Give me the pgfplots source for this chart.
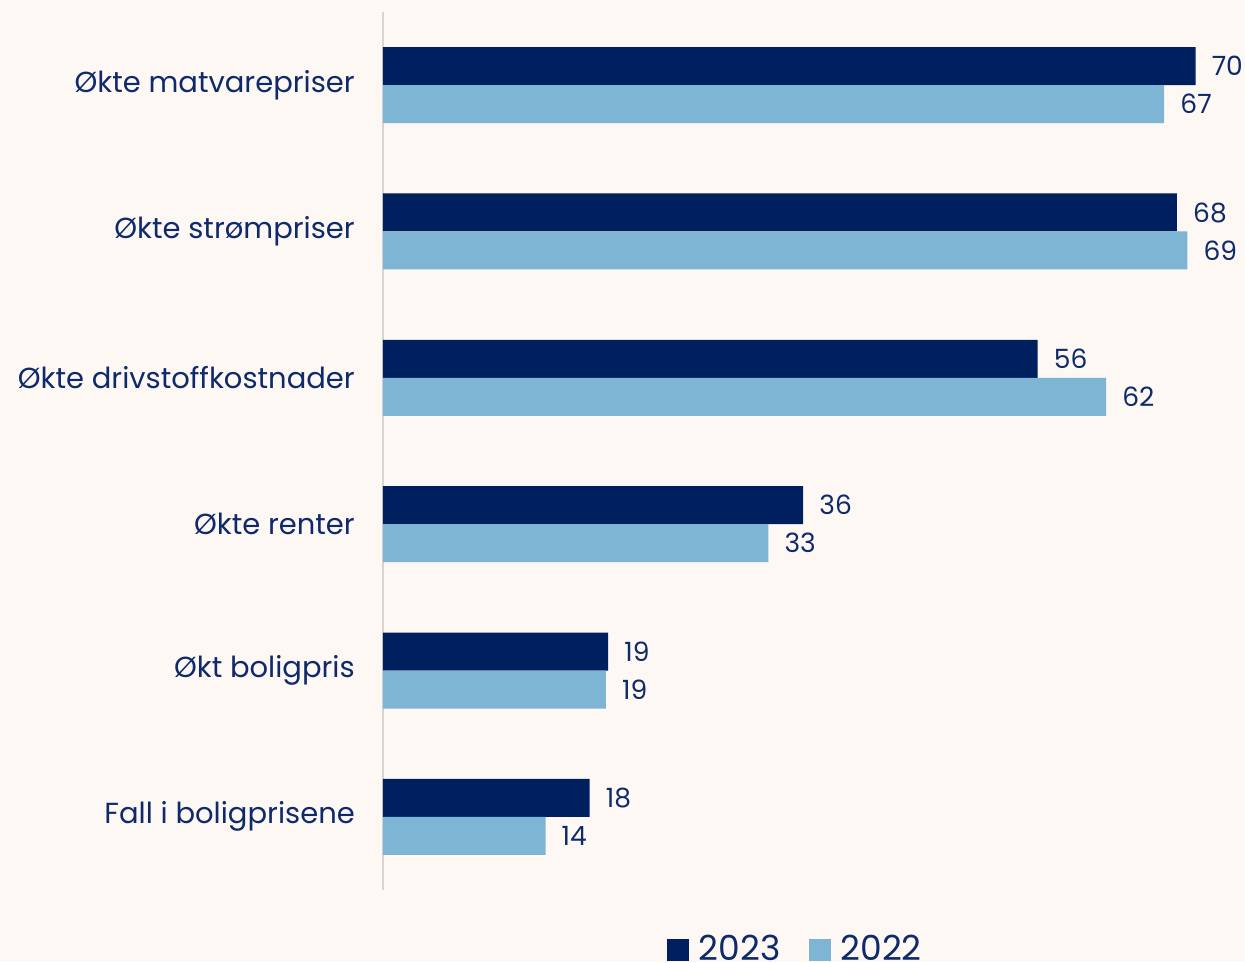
\documentclass[border=0pt]{standalone}
\usepackage{pgfplots}
\pgfplotsset{compat=1.18}
\usepackage{fontspec}
\setmainfont{Poppins}
\definecolor{bg}{HTML}{FDF8F4}
\definecolor{dark}{HTML}{001F5F}
\definecolor{light}{HTML}{7FB5D4}
\definecolor{txt}{HTML}{0E2A6A}
\definecolor{axl}{HTML}{D8D4CF}
\begin{document}
\begin{tikzpicture}[x=1pt,y=1pt]
\fill[bg] (0,0) rectangle (1245,962);
\path[use as bounding box] (0,0) rectangle (1245,962);
\begin{axis}[
  at={(383pt,72pt)}, anchor=south west,
  scale only axis, width=859pt, height=878pt,
  xmin=0, xmax=74, ymin=-0.5, ymax=5.5,
  axis x line=none, axis y line=left,
  axis line style={draw=axl, line width=1.5pt, -},
  ytick={0,1,2,3,4,5},
  yticklabels={Fall i boligprisene, Økt boligpris, Økte renter, Økte drivstoffkostnader, Økte strømpriser, Økte matvarepriser},
  major tick length=0pt,
  yticklabel style={font=\fontsize{29}{34}\selectfont, text=txt, inner sep=0pt, xshift=-28pt},
  /pgf/number format/assume math mode=true,
  /pgf/number format/fixed, /pgf/number format/precision=0,
  xbar, bar width=38pt, clip=false,
  nodes near coords,
  every node near coord/.append style={font=\fontsize{26.5}{30}\selectfont, text=txt, anchor=west, inner sep=0pt, xshift=16pt},
  legend columns=2,
  legend style={at={(0.48,-0.067)}, anchor=center, draw=none, fill=none, font=\fontsize{34.5}{40}\selectfont, text=txt,
    /tikz/every odd column/.append style={column sep=8pt},
    /tikz/every even column/.append style={column sep=26pt}},
  legend image code/.code={\fill[#1] (0pt,-12pt) rectangle (22pt,10pt);},
]
\addplot[fill=dark, draw=none, bar shift=19pt] coordinates {(70.0,5) (68.4,4) (56.4,3) (36.2,2) (19.4,1) (17.8,0)};
\addplot[fill=light, draw=none, bar shift=-19pt] coordinates {(67.3,5) (69.3,4) (62.3,3) (33.2,2) (19.2,1) (14.0,0)};
\legend{2023,2022}
\end{axis}
\end{tikzpicture}
\end{document}
